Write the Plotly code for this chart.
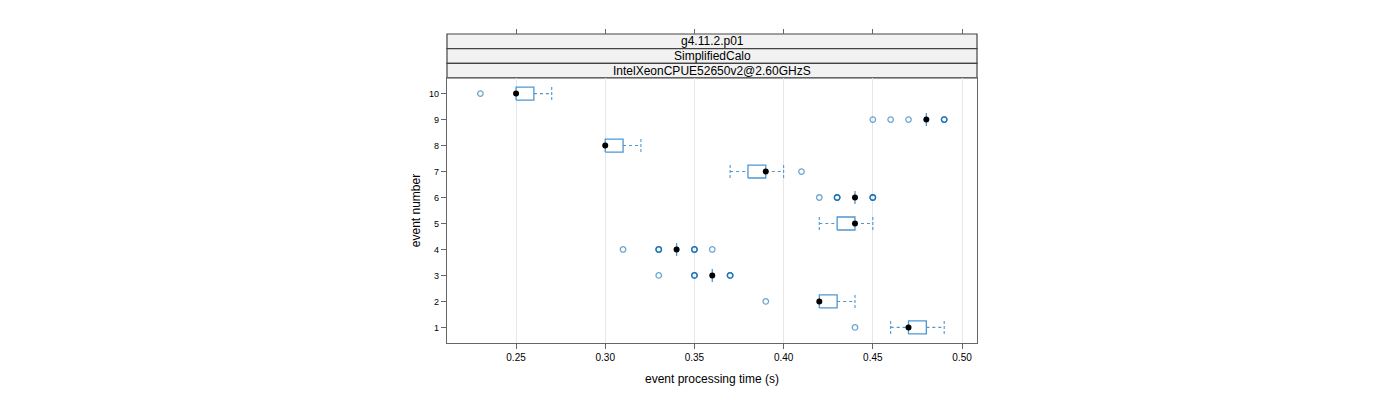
import plotly.graph_objects as go

# ---- data (seconds) ----
events = [1, 2, 3, 4, 5, 6, 7, 8, 9, 10]
q1 =      [0.47, 0.42, 0.36, 0.34, 0.43, 0.44, 0.38, 0.30, 0.48, 0.25]
median =  [0.47, 0.42, 0.36, 0.34, 0.44, 0.44, 0.39, 0.30, 0.48, 0.25]
q3 =      [0.48, 0.43, 0.36, 0.34, 0.44, 0.44, 0.39, 0.31, 0.48, 0.26]
lo =      [0.46, 0.42, 0.36, 0.34, 0.42, 0.44, 0.37, 0.30, 0.48, 0.25]
hi =      [0.49, 0.44, 0.36, 0.34, 0.45, 0.44, 0.40, 0.32, 0.48, 0.27]
outliers = [
    [0.44],
    [0.39],
    [0.33, 0.35, 0.35, 0.35, 0.37, 0.37, 0.37],
    [0.31, 0.33, 0.33, 0.33, 0.35, 0.35, 0.35, 0.36],
    [],
    [0.42, 0.43, 0.43, 0.43, 0.45, 0.45, 0.45],
    [0.41],
    [],
    [0.45, 0.46, 0.47, 0.49, 0.49, 0.49],
    [0.23],
]
x_ticks = [0.25, 0.30, 0.35, 0.40, 0.45, 0.50]
strip_labels = ["g4.11.2.p01", "SimplifiedCalo", "IntelXeonCPUE52650v2@2.60GHzS"]

BOX_COL = "#4f97cf"
PT_COL = "#0a6ab0"
H = 0.25

fig = go.Figure()

for i, ev in enumerate(events):
    # box rectangle
    fig.add_trace(go.Scatter(
        x=[q1[i], q3[i], q3[i], q1[i], q1[i]],
        y=[ev - H, ev - H, ev + H, ev + H, ev - H],
        mode="lines", line=dict(color=BOX_COL, width=1.3),
        hoverinfo="skip", showlegend=False))
    # whiskers (dashed)
    for a, b in [(lo[i], q1[i]), (q3[i], hi[i])]:
        if b != a:
            fig.add_trace(go.Scatter(
                x=[a, b], y=[ev, ev], mode="lines",
                line=dict(color=BOX_COL, width=1.1, dash="3px,3px"),
                hoverinfo="skip", showlegend=False))
    # whisker caps
    for c, ref in [(lo[i], q1[i]), (hi[i], q3[i])]:
        if c != ref:
            fig.add_trace(go.Scatter(
                x=[c, c], y=[ev - H, ev + H], mode="lines",
                line=dict(color=BOX_COL, width=1.1, dash="3px,2px"),
                hoverinfo="skip", showlegend=False))
    # outliers
    if outliers[i]:
        fig.add_trace(go.Scatter(
            x=outliers[i], y=[ev] * len(outliers[i]), mode="markers",
            marker=dict(symbol="circle-open", size=5.5, color=PT_COL,
                        opacity=0.6, line=dict(width=1.3)),
            showlegend=False))
    # median dot
    fig.add_trace(go.Scatter(
        x=[median[i]], y=[ev], mode="markers",
        marker=dict(symbol="circle", size=6, color="black"),
        showlegend=False))

# top ticks axis (invisible trace to activate xaxis2)
fig.add_trace(go.Scatter(x=[x_ticks[0]], y=[1], xaxis="x2", mode="markers",
                         marker=dict(opacity=0), hoverinfo="skip", showlegend=False))

XR = [0.2113, 0.5084]
PANEL_TOP = 0.8576

fig.update_layout(
    width=1400, height=400,
    margin=dict(l=447, r=423, t=34, b=57),
    plot_bgcolor="white", paper_bgcolor="white",
    font=dict(family="Liberation Sans, Arial, sans-serif", color="black"),
    xaxis=dict(range=XR, tickvals=x_ticks, ticktext=[f"{v:.2f}" for v in x_ticks],
               ticks="outside", ticklen=5, tickcolor="#666", showline=True,
               linecolor="#666", linewidth=1.2, mirror=True,
               showgrid=True, gridcolor="#e6e6e6", gridwidth=1, zeroline=False,
               tickfont=dict(size=10),
               title=dict(text="event processing time (s)", font=dict(size=12), standoff=12)),
    xaxis2=dict(range=XR, overlaying="x", side="top", anchor="free", position=1,
                tickvals=x_ticks, showticklabels=False, ticks="outside", ticklen=5,
                tickcolor="#666", showgrid=False, zeroline=False, showline=False),
    yaxis=dict(range=[0.4, 10.6], domain=[0, PANEL_TOP], tickvals=events,
               ticktext=[str(e) for e in events], ticks="outside", ticklen=5,
               tickcolor="#666", showline=True, linecolor="#666", linewidth=1.2,
               mirror=True, showgrid=False, zeroline=False, tickfont=dict(size=9),
               title=dict(text="event number", font=dict(size=12), standoff=5)),
)

# strips
n = len(strip_labels)
sh = (1 - PANEL_TOP) / n
for k, lab in enumerate(strip_labels):
    y1 = 1 - k * sh
    y0 = y1 - sh
    fig.add_shape(type="rect", xref="paper", yref="paper", x0=0, x1=1, y0=y0, y1=y1,
                  fillcolor="#f2f2f2", line=dict(color="#444", width=1.2), layer="below")
    fig.add_annotation(xref="paper", yref="paper", x=0.5, y=(y0 + y1) / 2,
                       text=lab, showarrow=False, font=dict(size=12),
                       xanchor="center", yanchor="middle")

fig.write_html("out.html")
